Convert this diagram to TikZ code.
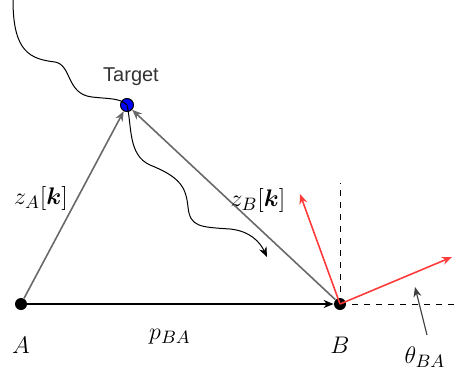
\documentclass[tikz,border=0pt]{standalone}
\usepackage{amsmath}
\usepackage{amssymb}
\usepackage{bm}
\usepackage{fontspec}
\newfontfamily\labelfont{Liberation Sans}
\usepackage{tikz}
\usetikzlibrary{arrows.meta,positioning,calc}

\definecolor{linegray}{RGB}{105,105,105}
\definecolor{vecred}{RGB}{255,60,60}

\begin{document}
\begin{tikzpicture}[x=0.5pt,y=0.5pt,
    dot/.style={circle,fill=black,minimum size=6pt,inner sep=0pt},
    tgt/.style={circle,draw=black,fill=blue,line width=0.5pt,minimum size=6.5pt,inner sep=0pt},
    gvec/.style={-{Stealth[length=5pt,width=4pt]},draw=linegray,line width=0.8pt},
    rvec/.style={-{Stealth[length=5pt,width=4pt]},draw=vecred,line width=0.8pt},
    guide/.style={dashed,line width=0.5pt},
    lbl/.style={font=\fontsize{13}{15}\selectfont}]
                    \useasboundingbox (0,0) rectangle (454,377);
                    \node[dot] (A) at (21,73) {};
                    \node[dot] (B) at (340,73) {};
                    \node[tgt] (T) at (127,272) {};
                    \node[font=\labelfont, text=black!80] (tlabel) at (131,300) {Target};
                    \coordinate (vtop) at (340,194);
                    \coordinate (hend) at (454,73);
                    \coordinate (r1) at (300,183);
                    \coordinate (r2) at (452,120);
                    \coordinate (ttail) at (427,42);
                    \coordinate (thead) at (415,90);
                    % guides at B
                    \draw[guide] (B.center) -- (vtop);
                    \draw[guide] (B.center) -- (hend);
                    % measurements
                    \draw[gvec] (A) -- (T);
                    \draw[gvec] (B) -- (T);
                    \draw[-{Stealth[length=5pt,width=4pt]}, line width=0.6pt] (A) -- (B);
                    \draw[rvec] (B.center) -- (r1);
                    \draw[rvec] (B.center) -- (r2);
                    \draw[-{Stealth[length=5pt,width=4pt]}, draw=black!75, line width=0.6pt] (ttail) -- (thead);
                    % target paths
                    \draw[line width=0.5pt] (13,377) .. controls (13,325) and (30,318) .. (55,315)
                        .. controls (72,312) and (66,283) .. (92,280)
                        .. controls (110,278) and (120,279) .. (T.center);
                    \draw[-{Stealth[length=5pt,width=4pt]}, line width=0.5pt] (T.center) .. controls (132,250) and (128,222) .. (150,212)
                        .. controls (180,200) and (186,190) .. (188,170)
                        .. controls (190,150) and (200,150) .. (230,148)
                        .. controls (250,146) and (260,135) .. (267,120);
                    % labels
                    \node[lbl] (la) at (21,32) {$A$};
                    \node[lbl] (lb) at (340,32) {$B$};
                    \node[lbl] (lp) at (170,40) {$p_{BA}$};
                    \node[lbl] (lza) at (41,179) {$z_A[\bm{k}]$};
                    \node[lbl] (lzb) at (258,177) {$z_B[\bm{k}]$};
                    \node[lbl] (lt) at (425,20) {$\theta_{BA}$};
                \end{tikzpicture}
\end{document}
